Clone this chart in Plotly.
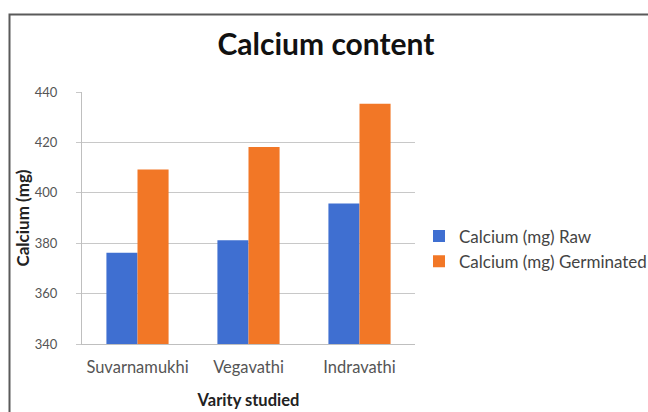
import plotly.graph_objects as go

# Calcium content (mg) of three millet varieties, raw vs. germinated
varieties = ["Suvarnamukhi", "Vegavathi", "Indravathi"]
calcium_raw = [376.2, 381.2, 395.8]
calcium_germinated = [409.2, 418.2, 435.3]
y_ticks = [340, 360, 380, 400, 420, 440]

BLUE = "#3F6FD1"
ORANGE = "#F27726"
FONT = "Lato, Open Sans, sans-serif"

W, H = 648, 412
L, R, T, B = 82, 233, 92, 68
pw, ph = W - L - R, H - T - B

def px_x(x):
    return (x - L) / pw

def px_y(y):
    return (H - B - y) / ph

fig = go.Figure()
fig.add_trace(go.Bar(x=varieties, y=calcium_raw, name="Calcium (mg) Raw",
                     marker=dict(color=BLUE, line=dict(width=0))))
fig.add_trace(go.Bar(x=varieties, y=calcium_germinated, name="Calcium (mg) Germinated",
                     marker=dict(color=ORANGE, line=dict(width=0))))

# outer chart frame (runs off the right and bottom edges)
fig.add_shape(type="rect", xref="paper", yref="paper",
              x0=px_x(9.5), x1=px_x(W + 20), y0=px_y(H + 20), y1=px_y(14.5),
              line=dict(color="#5a5a5a", width=2), fillcolor="rgba(0,0,0,0)", layer="below")

fig.update_layout(
    width=W, height=H,
    margin=dict(l=L, r=R, t=T, b=B, autoexpand=False),
    paper_bgcolor="white", plot_bgcolor="white",
    barmode="group", bargap=0.44, bargroupgap=0.0,
    title=dict(text="<b>Calcium content</b>", xref="container", x=326 / W, xanchor="center",
               yref="container", y=1 - 44 / H, yanchor="middle",
               font=dict(family=FONT, size=30, color="#111111")),
    font=dict(family=FONT, size=12, color="#555555"),
    xaxis=dict(
        showline=True, linecolor="#bfbfbf", linewidth=1,
        ticks="", tickfont=dict(size=16.5, color="#555555"),
        ticklabelstandoff=8,
        title=dict(text="<b>Varity studied</b>", font=dict(size=16.5, color="#222222"), standoff=18),
    ),
    yaxis=dict(
        range=[340, 440], tickvals=y_ticks,
        showgrid=True, gridcolor="#c8c8c8", gridwidth=1,
        showline=True, linecolor="#bfbfbf", linewidth=1,
        ticks="outside", ticklen=5, tickcolor="#c8c8c8",
        tickfont=dict(size=13, color="#555555"),
        ticklabelstandoff=16,
        zeroline=False,
        title=dict(text="<b>Calcium (mg)</b>", font=dict(size=17, color="#222222"), standoff=0),
    ),
    legend=dict(x=px_x(419), xanchor="left", y=px_y(249), yanchor="middle",
                font=dict(size=17, color="#444444"),
                itemwidth=30, bgcolor="rgba(0,0,0,0)"),
    showlegend=True,
)

fig.write_html("out.html")
